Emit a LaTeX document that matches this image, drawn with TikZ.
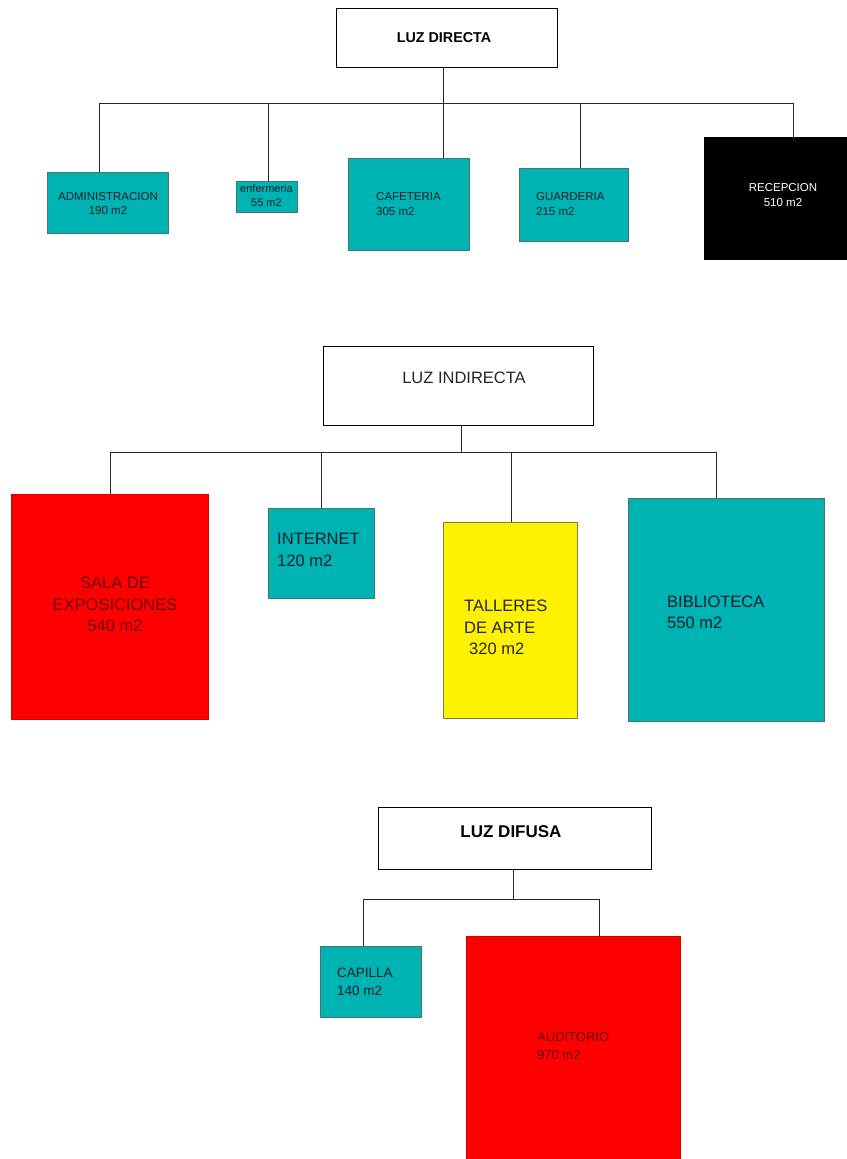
\documentclass[tikz,border=0pt]{standalone}
\usepackage{fontspec}
\setmainfont{Liberation Sans}
\definecolor{tealfill}{RGB}{0,179,179}
\definecolor{tealedge}{RGB}{70,115,115}
\definecolor{redtext}{RGB}{105,0,0}
\definecolor{tealtext}{RGB}{10,30,45}
\definecolor{yellowedge}{RGB}{130,130,60}
\tikzset{
  hdbox/.style={draw=black,line width=1pt,fill=white,inner sep=0pt},
  tealbox/.style={draw=tealedge,line width=0.9pt,fill=tealfill,inner sep=0pt},
  redbox/.style={draw=red!85!black,line width=0.6pt,fill=red,inner sep=0pt},
  yelbox/.style={draw=yellowedge,line width=0.9pt,fill=yellow,inner sep=0pt},
  blkbox/.style={draw=black,fill=black,inner sep=0pt},
  conn/.style={draw=black!85,line width=1pt},
  sA/.style={font=\fontsize{11.5}{14.5}\selectfont,inner sep=0pt},
  sB/.style={font=\fontsize{16.5}{21.5}\selectfont,inner sep=0pt},
  sC/.style={font=\fontsize{13.5}{18}\selectfont,inner sep=0pt},
}
\begin{document}
\begin{tikzpicture}[x=1pt,y=-1pt]
\useasboundingbox[fill=white] (0,0) rectangle (846,1159);

% ---------- LUZ DIRECTA ----------
\node[hdbox,minimum width=221pt,minimum height=59pt] (hd1) at (446.5,37.5) {};
\node[font=\fontsize{14.3}{16}\selectfont\bfseries,inner sep=0pt] (hd1t) at (444,38) {LUZ DIRECTA};

\node[tealbox,minimum width=121pt,minimum height=61pt] (adm) at (107.5,202.5) {};
\node[sA,align=center,text=tealtext] (admt) at (108,203.5) {ADMINISTRACION\\190 m2};

\node[tealbox,minimum width=61pt,minimum height=31pt] (enf) at (266.5,196.5) {};
\node[font=\fontsize{11}{13.5}\selectfont,inner sep=0pt,align=center,text=tealtext] (enft) at (266.5,195.5) {enfermeria\\55 m2};

\node[tealbox,minimum width=121pt,minimum height=92pt] (caf) at (408.5,204) {};
\node[sA,align=left,anchor=west,text=tealtext] (caft) at (376,204) {CAFETERIA\\305 m2};

\node[tealbox,minimum width=109pt,minimum height=73pt] (gua) at (573.5,204.5) {};
\node[sA,align=left,anchor=west,text=tealtext] (guat) at (536,204) {GUARDERIA\\215 m2};

\node[blkbox,minimum width=146pt,minimum height=122pt] (rec) at (777,198) {};
\node[sA,align=center,text=white] (rect) at (783,195) {RECEPCION\\510 m2};

\coordinate (j1) at (443,103);
\coordinate (b1a) at (99,103);
\coordinate (b1b) at (268,103);
\coordinate (b1c) at (443,103);
\coordinate (b1d) at (580,103);
\coordinate (b1e) at (793,103);
\draw[conn] (hd1.south -| j1) -- (j1);
\draw[conn] (b1a) -- (b1e);
\draw[conn] (b1a) -- (adm.north -| b1a);
\draw[conn] (b1b) -- (enf.north -| b1b);
\draw[conn] (b1c) -- (caf.north -| b1c);
\draw[conn] (b1d) -- (gua.north -| b1d);
\draw[conn] (b1e) -- (rec.north -| b1e);

% ---------- LUZ INDIRECTA ----------
\node[hdbox,minimum width=270pt,minimum height=79pt] (hd2) at (458,385.5) {};
\node[font=\fontsize{16.5}{20}\selectfont,inner sep=0pt,text=black!85] (hd2t) at (464,378) {LUZ INDIRECTA};

\node[redbox,minimum width=197pt,minimum height=225pt] (sala) at (109.5,606.5) {};
\node[sB,align=center,text=redtext] (salat) at (115,604.5) {SALA DE\\EXPOSICIONES\\540 m2};

\node[tealbox,minimum width=106pt,minimum height=90pt] (int) at (321,553) {};
\node[sB,align=left,anchor=west,text=tealtext] (intt) at (277,550) {INTERNET\\120 m2};

\node[yelbox,minimum width=134pt,minimum height=196pt] (tal) at (510,620) {};
\node[sB,align=left,anchor=west,text=black!85] (talt) at (464,627.5) {TALLERES\\DE ARTE\\\hspace{5pt}320 m2};

\node[tealbox,minimum width=196pt,minimum height=223pt] (bib) at (726,609.5) {};
\node[sB,align=left,anchor=west,text=tealtext] (bibt) at (667,612.5) {BIBLIOTECA\\550 m2};

\coordinate (j2) at (461,452);
\coordinate (b2a) at (110,452);
\coordinate (b2b) at (321,452);
\coordinate (b2c) at (511,452);
\coordinate (b2d) at (716,452);
\draw[conn] (hd2.south -| j2) -- (j2);
\draw[conn] (b2a) -- (b2d);
\draw[conn] (b2a) -- (sala.north -| b2a);
\draw[conn] (b2b) -- (int.north -| b2b);
\draw[conn] (b2c) -- (tal.north -| b2c);
\draw[conn] (b2d) -- (bib.north -| b2d);

% ---------- LUZ DIFUSA ----------
\node[hdbox,minimum width=273pt,minimum height=62pt] (hd3) at (514.5,838) {};
\node[font=\fontsize{17}{19}\selectfont\bfseries,inner sep=0pt] (hd3t) at (511,832) {LUZ DIFUSA};

\node[tealbox,minimum width=101pt,minimum height=71pt] (cap) at (370.5,981.5) {};
\node[sC,align=left,anchor=west,text=tealtext] (capt) at (337,982) {CAPILLA\\140 m2};

\node[redbox,minimum width=214pt,minimum height=230pt] (aud) at (573,1051) {};
\node[font=\fontsize{13}{18}\selectfont,inner sep=0pt,align=left,anchor=west,text=redtext] (audt) at (537,1046) {AUDITORIO\\970 m2};

\coordinate (j3) at (513,899);
\coordinate (b3a) at (363,899);
\coordinate (b3b) at (599,899);
\draw[conn] (hd3.south -| j3) -- (j3);
\draw[conn] (b3a) -- (b3b);
\draw[conn] (b3a) -- (cap.north -| b3a);
\draw[conn] (b3b) -- (aud.north -| b3b);
\end{tikzpicture}
\end{document}
